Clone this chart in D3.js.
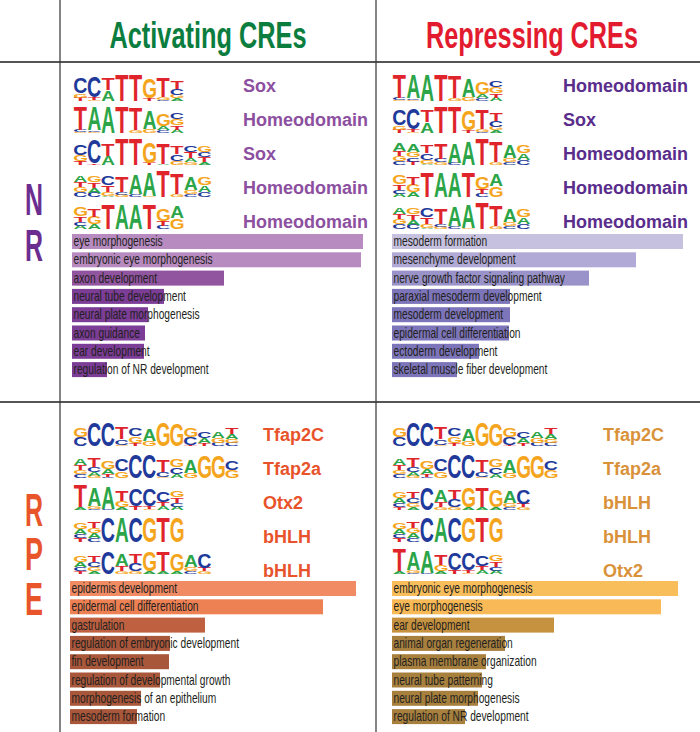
<!DOCTYPE html>
<html>
<head>
<meta charset="utf-8">
<script src="https://cdn.jsdelivr.net/npm/d3@7"></script>
<style>
  body { margin: 0; background: #fff; }
  svg { display: block; }
</style>
</head>
<body>
<svg id="fig"></svg>
<script>
// ---- motif columns (information content, bits per base) ----
const soxA = [
  {C: 1.2, G: 0.3, T: 0.25}, {C: 1.6, T: 0.2, G: 0.1}, {T: 0.9, A: 0.8}, {T: 1.9},
  {T: 1.9}, {G: 1.5, T: 0.2}, {T: 1.4, G: 0.2, C: 0.1}, {T: 0.55, C: 0.45, G: 0.25, A: 0.2}
];
const homeoA = [
  {T: 1.7, C: 0.15, G: 0.1}, {A: 1.7, C: 0.12, G: 0.1}, {A: 1.9}, {T: 1.9},
  {T: 1.6, G: 0.2}, {A: 1.3, G: 0.3}, {G: 0.9, A: 0.3, C: 0.2}, {C: 0.5, G: 0.45, T: 0.3, A: 0.25}
];
const soxB = [
  {C: 0.8, G: 0.45, T: 0.3}, {C: 1.7, T: 0.1}, {T: 0.9, A: 0.7}, {T: 1.9}, {T: 1.9},
  {G: 1.6, T: 0.15}, {T: 1.5, A: 0.1}, {T: 0.6, C: 0.5, G: 0.3}, {C: 0.5, T: 0.45, A: 0.3, G: 0.2},
  {G: 0.5, C: 0.4, T: 0.38, A: 0.2}
];
const homeoB = [
  {A: 0.5, T: 0.4, G: 0.38, C: 0.35}, {G: 0.5, T: 0.4, A: 0.35, C: 0.33}, {C: 0.65, T: 0.45, G: 0.3, A: 0.1},
  {T: 1.1, C: 0.2, G: 0.15}, {A: 1.4, C: 0.2}, {A: 1.7, G: 0.1}, {T: 1.9}, {T: 1.5, G: 0.2},
  {A: 1.0, G: 0.3, C: 0.2}, {G: 0.6, A: 0.5, C: 0.35}
];
const homeoC = [
  {G: 0.7, T: 0.4, C: 0.3, A: 0.25}, {T: 0.6, G: 0.55, A: 0.35}, {T: 1.8}, {A: 1.8},
  {A: 1.8}, {T: 1.8}, {G: 0.9, T: 0.35, C: 0.25}, {A: 0.9, G: 0.8}
];
const homeoD = [
  {A: 0.55, T: 0.4, G: 0.35, C: 0.3}, {A: 0.6, G: 0.4, C: 0.3, T: 0.25}, {T: 0.55, C: 0.5, G: 0.3, A: 0.1},
  {T: 1.1, C: 0.25, G: 0.2}, {A: 1.4, C: 0.15}, {A: 1.7}, {T: 1.9}, {T: 1.5, G: 0.2},
  {A: 1.0, G: 0.3, C: 0.2}, {G: 0.6, A: 0.5, C: 0.35}
];
const tfap2c = [
  {G: 0.7, C: 0.65}, {C: 1.7}, {C: 1.7}, {T: 0.9, C: 0.4, G: 0.1}, {C: 0.6, G: 0.5, T: 0.2},
  {A: 0.9, G: 0.4}, {G: 1.7}, {G: 1.6}, {G: 0.65, C: 0.55, T: 0.1}, {C: 0.5, A: 0.4, T: 0.2},
  {A: 0.45, G: 0.35, C: 0.25}, {T: 0.5, A: 0.35, G: 0.3, C: 0.25}
];
const tfap2a = [
  {A: 0.5, T: 0.35, C: 0.3, G: 0.3}, {T: 0.7, C: 0.35, A: 0.3, G: 0.15}, {G: 0.6, A: 0.35, T: 0.2, C: 0.1},
  {C: 0.9, G: 0.5}, {C: 1.7}, {C: 1.7}, {T: 0.9, C: 0.35, G: 0.1}, {G: 0.6, C: 0.5, A: 0.3},
  {A: 1.0, G: 0.4}, {G: 1.6}, {G: 1.6}, {C: 0.7, G: 0.6}
];
const otx2 = [
  {T: 1.6, A: 0.2}, {A: 1.3, G: 0.2, C: 0.1}, {A: 1.6, C: 0.1}, {T: 0.8, G: 0.5, A: 0.2},
  {C: 1.3, T: 0.3}, {C: 1.3, T: 0.2, G: 0.1}, {C: 0.8, T: 0.3, A: 0.28}, {G: 0.45, T: 0.4, C: 0.3, A: 0.25}
];
const bhlhA = [
  {G: 0.45, A: 0.35, T: 0.3, C: 0.3}, {T: 0.45, G: 0.4, A: 0.35, C: 0.3}, {C: 1.8}, {A: 1.8},
  {C: 1.8}, {G: 1.8}, {T: 1.8}, {G: 1.8}
];
const bhlhB = [
  {G: 0.5, A: 0.4, C: 0.3, T: 0.2}, {T: 0.5, C: 0.4, G: 0.3, A: 0.2}, {C: 1.6}, {A: 0.9, T: 0.4, G: 0.2},
  {T: 0.7, C: 0.6, G: 0.2}, {G: 1.5, A: 0.2}, {T: 1.4, A: 0.2}, {G: 1.3, A: 0.2},
  {A: 0.9, G: 0.3, C: 0.2}, {C: 1.1, T: 0.25, G: 0.2}
];

// ---- panel contents ----
const columnHeaders = ["Activating CREs", "Repressing CREs"];
const rowHeaders = ["NR", "RPE"];

const nrActMotifs = [soxA, homeoA, soxB, homeoB, homeoC];
const nrActFamilies = ["Sox", "Homeodomain", "Sox", "Homeodomain", "Homeodomain"];
const nrActTerms = ["eye morphogenesis", "embryonic eye morphogenesis", "axon development",
  "neural tube development", "neural plate morphogenesis", "axon guidance", "ear development",
  "regulation of NR development"];
const nrActScores = [29.1, 28.9, 15.2, 9.2, 7.6, 7.3, 7.2, 3.5];

const nrRepMotifs = [homeoA, soxA, homeoD, homeoC, homeoB];
const nrRepFamilies = ["Homeodomain", "Sox", "Homeodomain", "Homeodomain", "Homeodomain"];
const nrRepTerms = ["mesoderm formation", "mesenchyme development", "nerve growth factor signaling pathway",
  "paraxial mesoderm development", "mesoderm development", "epidermal cell differentiation",
  "ectoderm development", "skeletal muscle fiber development"];
const nrRepScores = [29.1, 24.4, 19.7, 11.8, 11.8, 11.7, 8.7, 6.5];

const rpeActMotifs = [tfap2c, tfap2a, otx2, bhlhA, bhlhB];
const rpeActFamilies = ["Tfap2C", "Tfap2a", "Otx2", "bHLH", "bHLH"];
const rpeActTerms = ["epidermis development", "epidermal cell differentiation", "gastrulation",
  "regulation of embryonic development", "fin development", "regulation of developmental growth",
  "morphogenesis of an epithelium", "mesoderm formation"];
const rpeActScores = [28.6, 25.3, 13.5, 10.0, 9.9, 9.0, 7.1, 6.7];

const rpeRepMotifs = [tfap2c, tfap2a, bhlhB, bhlhA, otx2];
const rpeRepFamilies = ["Tfap2C", "Tfap2a", "bHLH", "bHLH", "Otx2"];
const rpeRepTerms = ["embryonic eye morphogenesis", "eye morphogenesis", "ear development",
  "animal organ regeneration", "plasma membrane organization", "neural tube patterning",
  "neural plate morphogenesis", "regulation of NR development"];
const rpeRepScores = [28.6, 26.9, 16.2, 11.3, 9.4, 9.0, 8.6, 7.3];

// ---- layout / style ----
const W = 700, H = 732;
const baseColor = {A: "#2ca548", C: "#1f3a9a", G: "#f5a51d", T: "#e0242b"};
const logoFont = "Liberation Sans, Arial, sans-serif";
const colW = 13.7, logoH = 27;

const panels = [
  {motifs: nrActMotifs, fams: nrActFamilies, terms: nrActTerms, scores: nrActScores,
   x: 74, barX: 72, famX: 243, logoY: 74, famY: 86, barY: 234, famColor: "#8d4f9f",
   barColors: ["#b78bc0", "#b78bc0", "#91549f", "#7b3d96"]},
  {motifs: nrRepMotifs, fams: nrRepFamilies, terms: nrRepTerms, scores: nrRepScores,
   x: 393, barX: 392, famX: 563, logoY: 74, famY: 86, barY: 234, famColor: "#5a2d8c",
   barColors: ["#c6c1df", "#b1aad6", "#9a93c9", "#7c75b9"]},
  {motifs: rpeActMotifs, fams: rpeActFamilies, terms: rpeActTerms, scores: rpeActScores,
   x: 74, barX: 70, famX: 263, logoY: 419, famY: 435, barY: 581, famColor: "#e8532b",
   barColors: ["#f08b64", "#ee8154", "#bf6140", "#a9573a"]},
  {motifs: rpeRepMotifs, fams: rpeRepFamilies, terms: rpeRepTerms, scores: rpeRepScores,
   x: 393, barX: 392, famX: 603, logoY: 419, famY: 435, barY: 581, famColor: "#d9923a",
   barColors: ["#f9be5c", "#f8b956", "#c7923f", "#a7803e"]}
];

const svg = d3.select("#fig").attr("width", W).attr("height", H);

// measure letter ink boxes so each glyph can be stretched into its slot
const ctx = document.createElement("canvas").getContext("2d");
ctx.font = "bold 100px 'Liberation Sans'";
const metrics = {};
"ACGT".split("").forEach(b => {
  const m = ctx.measureText(b);
  metrics[b] = {l: m.actualBoundingBoxLeft, w: m.actualBoundingBoxLeft + m.actualBoundingBoxRight,
    a: m.actualBoundingBoxAscent, h: m.actualBoundingBoxAscent + m.actualBoundingBoxDescent};
});

function drawLetter(g, base, x, y, w, h) {
  if (h < 0.3) return;
  const m = metrics[base];
  g.append("text")
    .text(base)
    .attr("font-family", logoFont)
    .attr("font-weight", "bold")
    .attr("font-size", 100)
    .attr("fill", baseColor[base])
    .attr("transform", `translate(${x},${y}) scale(${w / m.w},${h / m.h}) translate(${m.l},${m.a})`);
}

function drawLogo(g, motif, x0, y0) {
  let sx = d3.scaleBand()
    .domain(d3.range(motif.length))
    .range([x0, x0 + motif.length * colW])
    .paddingInner(0.06);
  let sy = d3.scaleLinear().domain([0, 2]).range([y0 + logoH, y0]);
  motif.forEach((col, i) => {
    let stack = Object.entries(col).sort((a, b) => a[1] - b[1]);
    let acc = 0;
    stack.forEach(([base, bits]) => {
      let yb = sy(acc), yt = sy(acc + bits);
      acc += bits;
      drawLetter(g, base, sx(i), yt, sx.bandwidth(), yb - yt);
    });
  });
}

// grid lines
const grid = svg.append("g").attr("stroke", "#333");
grid.append("line").attr("x1", 0).attr("x2", W).attr("y1", 62).attr("y2", 62).attr("stroke-width", 1.8).attr("stroke", "#555");
grid.append("line").attr("x1", 0).attr("x2", W).attr("y1", 402).attr("y2", 402).attr("stroke-width", 1.8).attr("stroke", "#555");
grid.append("line").attr("x1", 60).attr("x2", 60).attr("y1", 0).attr("y2", H).attr("stroke-width", 1.2);
grid.append("line").attr("x1", 376).attr("x2", 376).attr("y1", 0).attr("y2", H).attr("stroke-width", 1.2);

// column headers
const headX = [208, 532], headW = [197, 212], headCol = ["#0b7d3e", "#e31b2f"];
columnHeaders.forEach((t, i) => {
  svg.append("text")
    .text(t)
    .attr("x", headX[i] - headW[i] / 2)
    .attr("y", 48)
    .attr("font-family", logoFont)
    .attr("font-weight", "bold")
    .attr("font-size", 37)
    .attr("fill", headCol[i])
    .attr("textLength", headW[i])
    .attr("lengthAdjust", "spacingAndGlyphs");
});

// row headers, one letter above the next
const rowBase = [[215, 261], [526, 570, 615]], rowSize = [44, 46], rowCol = ["#6b2d90", "#e9552b"];
rowHeaders.forEach((t, i) => {
  t.split("").forEach((ch, j) => {
    svg.append("text")
      .text(ch)
      .attr("x", 25)
      .attr("y", rowBase[i][j])
      .attr("font-family", logoFont)
      .attr("font-weight", "bold")
      .attr("font-size", rowSize[i])
      .attr("fill", rowCol[i])
      .attr("textLength", 18)
      .attr("lengthAdjust", "spacingAndGlyphs");
  });
});

// panels
const scoreX = d3.scaleLinear().domain([0, 30]).range([0, 300]);
const rowStep = 32, famStep = 34, barStep = 18.3, barH = 15;

panels.forEach(p => {
  const g = svg.append("g");
  p.motifs.forEach((m, i) => drawLogo(g, m, p.x, p.logoY + i * rowStep));

  g.selectAll(".fam")
    .data(p.fams)
    .enter()
    .append("text")
    .text(d => d)
    .attr("x", p.famX)
    .attr("y", (d, i) => p.famY + i * famStep)
    .attr("dy", "0.36em")
    .attr("font-family", logoFont)
    .attr("font-weight", "bold")
    .attr("font-size", 18)
    .attr("fill", p.famColor);

  g.selectAll(".bar")
    .data(p.scores)
    .enter()
    .append("rect")
    .attr("x", p.barX)
    .attr("y", (d, i) => p.barY + i * barStep)
    .attr("width", d => scoreX(d))
    .attr("height", barH)
    .attr("fill", (d, i) => p.barColors[Math.min(i, 3)]);

  g.selectAll(".term")
    .data(p.terms)
    .enter()
    .append("text")
    .text(d => d)
    .attr("transform", (d, i) => `translate(${p.barX + 1.5},${p.barY + i * barStep + 12}) scale(0.73,1)`)
    .attr("font-family", logoFont)
    .attr("font-size", 14)
    .attr("fill", "#231f20");
});
</script>
</body>
</html>
